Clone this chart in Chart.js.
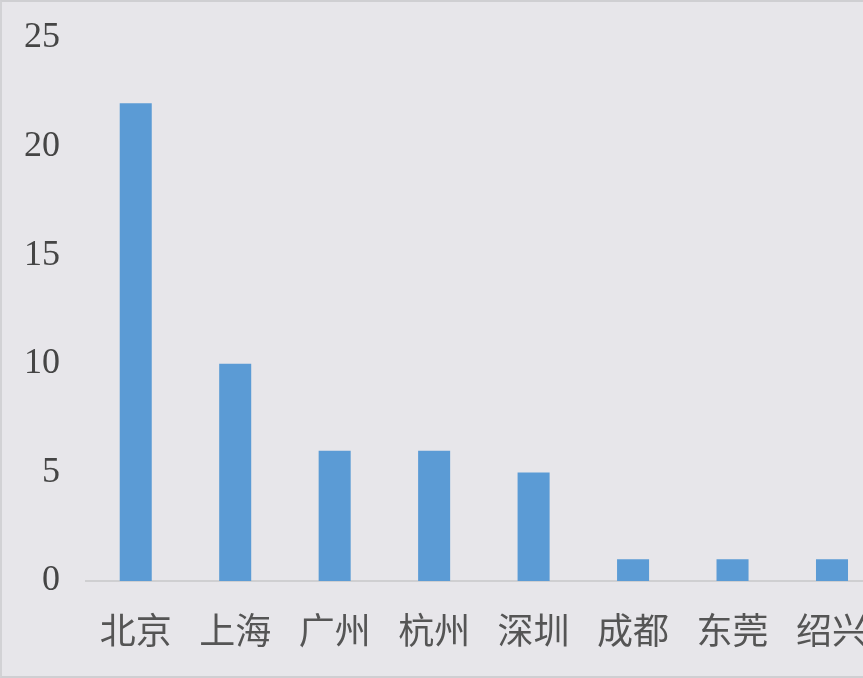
<!DOCTYPE html>
<html>
<head>
<meta charset="utf-8">
<script src="https://cdn.jsdelivr.net/npm/chart.js@4/dist/chart.umd.min.js"></script>
<style>
  html, body { margin: 0; padding: 0; width: 863px; height: 678px; overflow: hidden; background: #e7e6ea; }
  #wrap { position: absolute; left: 0; top: 0; width: 896px; height: 678px; }
  #frame { position: absolute; left: 0; top: 0; width: 863px; height: 678px; box-sizing: border-box;
           border-top: 2px solid #cfcfd2; border-left: 2px solid #d2d2d5; border-bottom: 2px solid #cfcfd2; pointer-events: none; }
</style>
</head>
<body>
<div id="wrap"><canvas id="c" width="896" height="678"></canvas></div>
<div id="frame"></div>
<script>
const categories = ["北京", "上海", "广州", "杭州", "深圳", "成都", "东莞", "绍兴"];
const values = [22, 10, 6, 6, 5, 1, 1, 1];
const yTicks = [0, 5, 10, 15, 20, 25];

new Chart(document.getElementById('c'), {
  type: 'bar',
  data: {
    labels: categories,
    datasets: [{
      data: values,
      backgroundColor: '#5b9bd5',
      borderWidth: 0,
      barPercentage: 0.322,
      categoryPercentage: 1.0
    }]
  },
  options: {
    responsive: false,
    animation: false,
    layout: { padding: { top: 38, right: 0, left: 0, bottom: 0 } },
    plugins: { legend: { display: false }, tooltip: { enabled: false } },
    scales: {
      y: {
        min: 0, max: 25,
        afterBuildTicks: (s) => { s.ticks = yTicks.map(v => ({ value: v })); },
        afterFit: (s) => { s.width = 86; s.paddingTop = 0; s.paddingBottom = 0; },
        grid: { display: false, drawTicks: false },
        border: { display: false },
        ticks: {
          padding: 26,
          color: '#454545',
          font: { family: 'Liberation Serif', size: 36 }
        }
      },
      x: {
        afterFit: (s) => { s.height = 97; },
        grid: { display: false, drawTicks: false },
        border: { display: true, color: '#cfcfd1', width: 2 },
        ticks: {
          padding: 28,
          color: '#555555',
          maxRotation: 0,
          autoSkip: false,
          font: { family: 'Noto Sans CJK SC', size: 36 }
        }
      }
    }
  }
});
</script>
</body>
</html>
